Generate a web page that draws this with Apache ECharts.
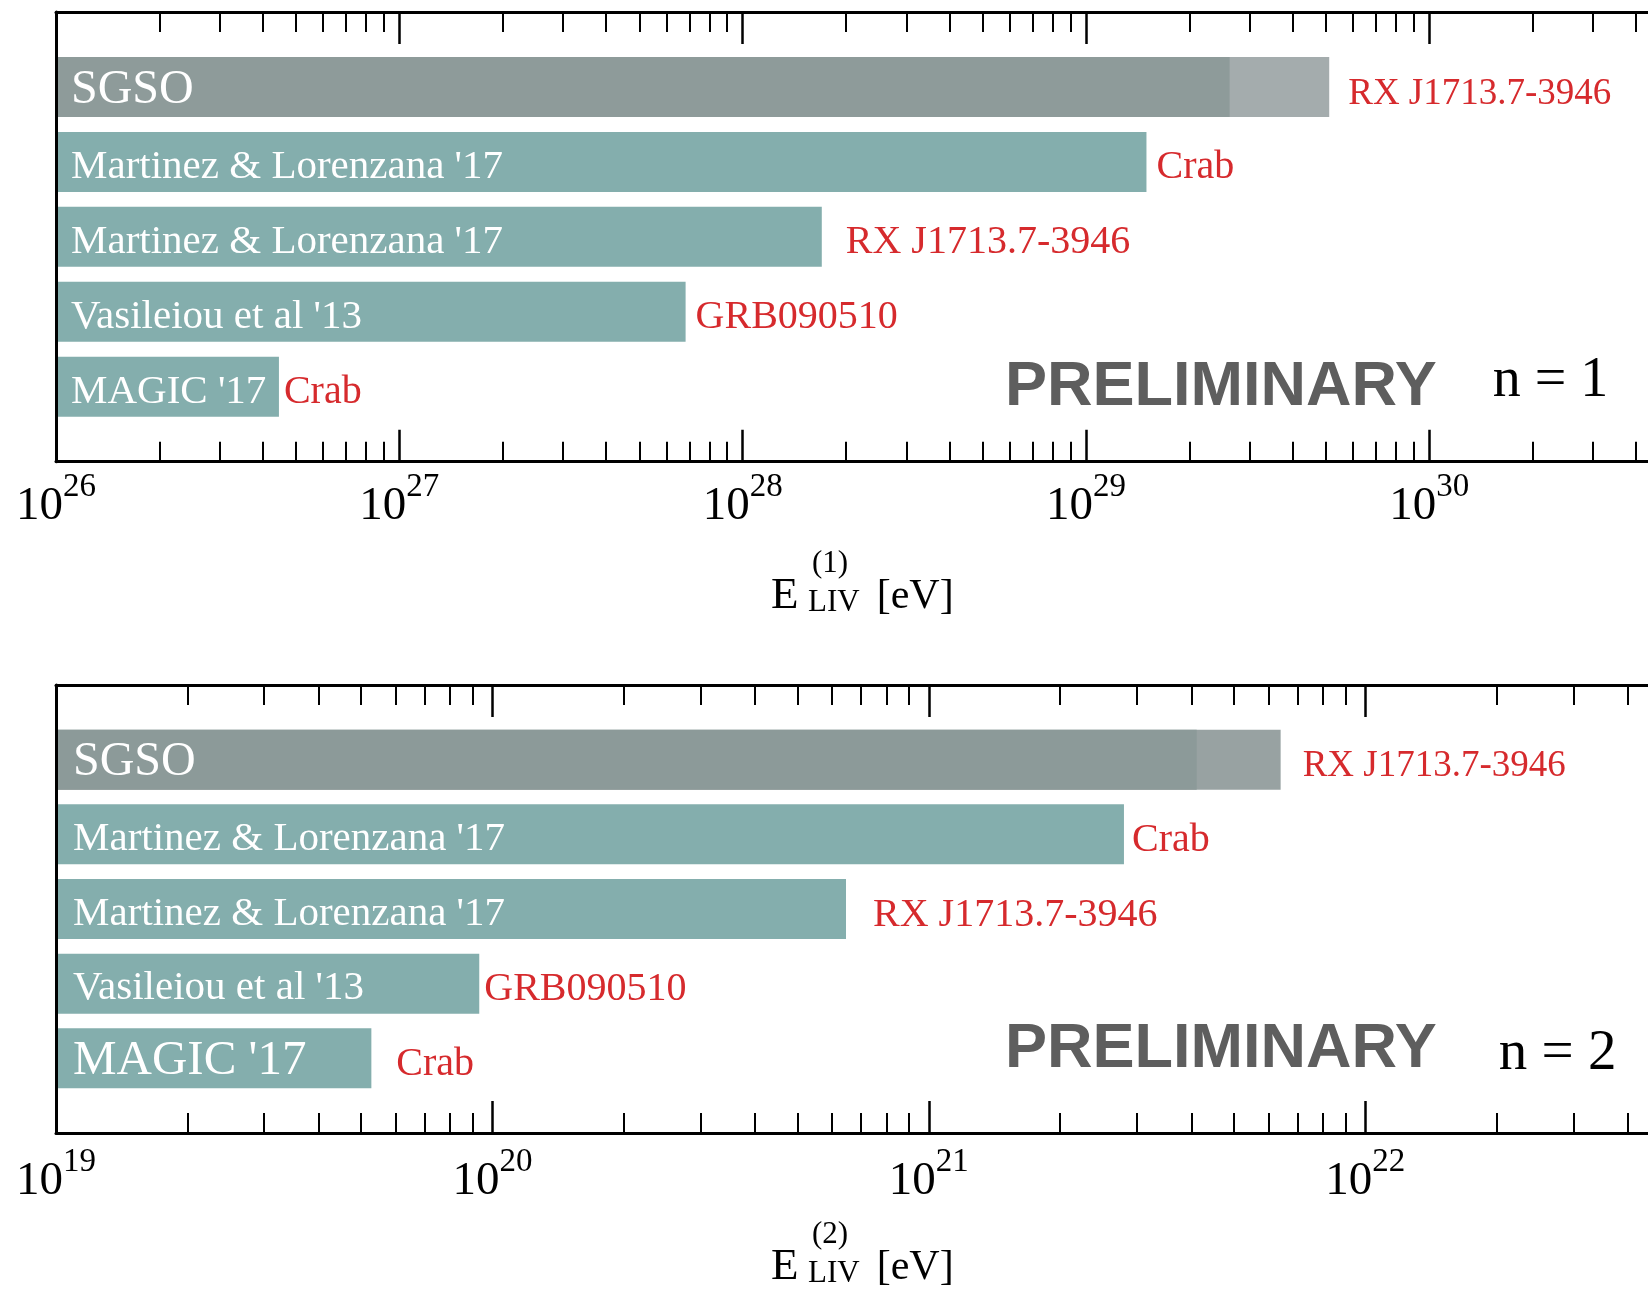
<!DOCTYPE html>
<html>
<head>
<meta charset="utf-8">
<title>LIV energy limits</title>
<script src="https://cdn.jsdelivr.net/npm/echarts@6/dist/echarts.min.js"></script>
<style>
  html, body { margin: 0; padding: 0; background: #fff; }
  #chart { width: 1648px; height: 1290px; }
</style>
</head>
<body>
<div id="chart"></div>
<script>
// n = 1 panel
const topNames = ['SGSO', "Martinez & Lorenzana '17", "Martinez & Lorenzana '17", "Vasileiou et al '13", "MAGIC '17"];
const topSources = ['RX J1713.7-3946', 'Crab', 'RX J1713.7-3946', 'GRB090510', 'Crab'];
const topLimits = [5.11e29, 1.50e29, 1.70e28, 6.82e27, 4.46e26];
const topSgsoCore = 2.62e29;
const topExponents = [26, 27, 28, 29, 30];
const topAxisMax = 4.334e30; // the figure is cut off here

// n = 2 panel
const bottomNames = ['SGSO', "Martinez & Lorenzana '17", "Martinez & Lorenzana '17", "Vasileiou et al '13", "MAGIC '17"];
const bottomSources = ['RX J1713.7-3946', 'Crab', 'RX J1713.7-3946', 'GRB090510', 'Crab'];
const bottomLimits = [6.40e21, 2.80e21, 6.46e20, 9.33e19, 5.28e19];
const bottomSgsoCore = 4.11e21;
const bottomExponents = [19, 20, 21, 22];
const bottomAxisMax = 4.446e22;

const minorSteps = [2, 3, 4, 5, 6, 7, 8, 9];
const rowSlots = ['0', '1', '2', '3', '4', '5', '6'];

const serif = '"Liberation Serif", "Times New Roman", serif';
const red = '#d62a2d';
const teal = '#84aead';

// per panel looks (label gaps, font sizes, grey shades)
const topLook = {
  dark: '#8e9b9a', light: '#a4acad',
  gaps: [19, 10, 24, 10, 5],
  sourceSizes: [37, 40, 40, 40, 40],
  nameSizes: [48, 41, 41, 41, 41],
  nameGap: 15,
  tickMargin: 9
};
const bottomLook = {
  dark: '#8c9a99', light: '#98a2a2',
  gaps: [22, 8, 27, 5, 25],
  sourceSizes: [37, 40, 40, 40, 40],
  nameSizes: [48, 41, 41, 41, 49],
  nameGap: 17,
  tickMargin: 13
};

function pow10(e) { return Number('1e' + e); }

function makeXAxes(gridIndex, exps, maxValue, look) {
  const majors = exps.map(pow10);
  const minors = [];
  exps.forEach(function (e) {
    minorSteps.forEach(function (m) {
      if (m * pow10(e) < maxValue) minors.push(m * pow10(e));
    });
  });
  const base = {
    type: 'log',
    gridIndex: gridIndex,
    min: pow10(exps[0]),
    max: maxValue,
    splitLine: { show: false },
    axisPointer: { show: false }
  };
  const line = { show: true, onZero: false, lineStyle: { color: '#000', width: 3 } };
  const majorTick = { show: true, inside: true, length: 32, customValues: majors, lineStyle: { color: '#000', width: 2.5 } };
  const minorTick = { show: true, inside: true, length: 20, customValues: minors, lineStyle: { color: '#000', width: 2 } };
  return [
    Object.assign({}, base, {
      position: 'bottom', axisLine: line, axisTick: majorTick,
      axisLabel: {
        show: true,
        customValues: majors,
        margin: look.tickMargin,
        formatter: function (v) { return '{b|10}{e|' + Math.round(Math.log10(v)) + '}'; },
        rich: {
          b: { fontFamily: serif, fontSize: 47, lineHeight: 72, color: '#000' },
          e: { fontFamily: serif, fontSize: 33, lineHeight: 20, verticalAlign: 'top', color: '#000' }
        }
      }
    }),
    Object.assign({}, base, { position: 'bottom', axisLine: { show: false }, axisTick: minorTick, axisLabel: { show: false } }),
    Object.assign({}, base, { position: 'top', axisLine: line, axisTick: majorTick, axisLabel: { show: false } }),
    Object.assign({}, base, { position: 'top', axisLine: { show: false }, axisTick: minorTick, axisLabel: { show: false } })
  ];
}

function makeYAxis(gridIndex) {
  return {
    type: 'category',
    gridIndex: gridIndex,
    data: rowSlots,
    inverse: true,
    boundaryGap: false,
    z: 5,
    axisLine: { show: true, lineStyle: { color: '#000', width: 3 } },
    axisTick: { show: false },
    axisLabel: { show: false },
    splitLine: { show: false }
  };
}

function makeSeries(gridIndex, xIndex, names, sources, limits, core, look) {
  const common = {
    type: 'bar',
    xAxisIndex: xIndex,
    yAxisIndex: gridIndex,
    barWidth: 60,
    barGap: '-100%',
    silent: true,
    animation: false
  };
  const ends = limits.map(function (v, i) {
    return {
      value: [v, i + 1],
      itemStyle: { color: i === 0 ? look.light : teal },
      label: { distance: look.gaps[i], fontSize: look.sourceSizes[i], offset: [0, i === 0 ? 7 : 6] }
    };
  });
  const tags = limits.map(function (v, i) {
    const big = look.nameSizes[i] > 45;
    return { value: [v, i + 1], label: { fontSize: look.nameSizes[i], offset: [0, big ? 3 : 5] } };
  });
  return [
    Object.assign({}, common, {
      name: 'limit' + gridIndex,
      data: ends,
      label: {
        show: true, position: 'right', color: red, fontFamily: serif,
        formatter: function (p) { return sources[p.dataIndex]; }
      }
    }),
    Object.assign({}, common, {
      name: 'core' + gridIndex,
      data: [{ value: [core, 1], itemStyle: { color: look.dark } }]
    }),
    Object.assign({}, common, {
      name: 'names' + gridIndex,
      data: tags,
      itemStyle: { color: 'rgba(0,0,0,0)' },
      label: {
        show: true, position: 'insideLeft', distance: look.nameGap, color: '#fff', fontFamily: serif,
        formatter: function (p) { return names[p.dataIndex]; }
      }
    })
  ];
}

function txt(text, x, y, size, extra) {
  return {
    type: 'text', x: x, y: y, silent: true, z: 10,
    style: Object.assign({
      text: text, fontFamily: serif, fontSize: size, fill: '#000',
      align: 'left', verticalAlign: 'middle', textAlign: 'left', textVerticalAlign: 'middle'
    }, extra || {})
  };
}

function axisTitle(n, dy) {
  return [
    txt('E', 771, 596 + dy, 45),
    txt('(' + n + ')', 812, 564 + dy, 31),
    txt('LIV', 808, 603 + dy, 31),
    txt('[eV]', 876.7, 597 + dy, 42)
  ];
}

const prelimStyle = { fontFamily: '"Liberation Sans", Arial, sans-serif', fontWeight: 'bold', fill: '#5e5e5e' };

const chart = echarts.init(document.getElementById('chart'));

chart.setOption({
  backgroundColor: '#fff',
  animation: false,
  grid: [
    { left: 56, right: 0, top: 12, height: 449.7 },
    { left: 56, right: 0, top: 685, height: 448 }
  ],
  xAxis: makeXAxes(0, topExponents, topAxisMax, topLook).concat(makeXAxes(1, bottomExponents, bottomAxisMax, bottomLook)),
  yAxis: [makeYAxis(0), makeYAxis(1)],
  series: makeSeries(0, 0, topNames, topSources, topLimits, topSgsoCore, topLook)
    .concat(makeSeries(1, 4, bottomNames, bottomSources, bottomLimits, bottomSgsoCore, bottomLook)),
  graphic: [
    txt('PRELIMINARY', 1005, 387.5, 63, prelimStyle),
    txt('n = 1', 1492.7, 381.7, 56),
    txt('PRELIMINARY', 1005, 1049.2, 63, prelimStyle),
    txt('n = 2', 1498.8, 1054.5, 57)
  ].concat(axisTitle(1, 0), axisTitle(2, 671.3))
});
</script>
</body>
</html>
